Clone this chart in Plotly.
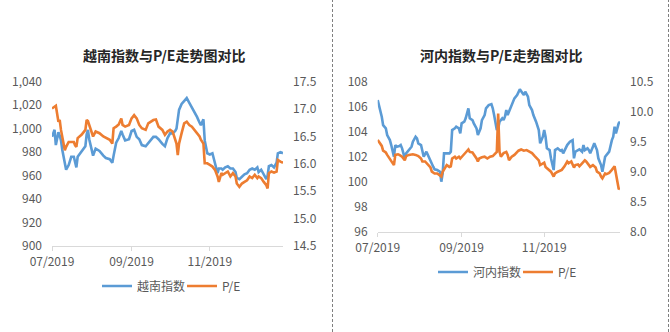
import plotly.graph_objects as go
import pandas as pd

START = pd.Timestamp("2019-07-01")
tick_vals = ["2019-07-01", "2019-09-01", "2019-11-01"]
tick_text = ["07/2019", "09/2019", "11/2019"]

# ---- Left chart: 越南指数 vs P/E (days since 2019-07-01) ----
vn_days = [0, 2, 3, 5, 6, 7, 8, 10, 11, 13,
           15, 17, 18, 19, 20, 23, 26, 27, 28, 29,
           32, 34, 37, 40, 42, 45, 47, 48, 50, 52,
           54, 55, 57, 60, 62, 64, 66, 68, 70, 73,
           75, 77, 79, 81, 83, 86, 88, 90, 92, 94,
           96, 97, 98, 99, 101, 103, 105, 107, 109, 111,
           113, 115, 116, 118, 119, 121, 123, 125, 127, 129,
           130, 132, 133, 135, 137, 139, 141, 143, 144, 146,
           148, 150, 152, 154, 156, 158, 160, 161, 163, 165,
           167, 168, 169, 171, 173, 175, 176, 178, 180]
vn_index = [993, 999, 986, 997, 994, 990, 982, 970, 965, 969,
            976, 976, 972, 967, 976, 981, 985, 995, 999, 991,
            977, 983, 981, 977, 975, 974, 971, 977, 988, 992,
            998, 995, 990, 991, 998, 999, 993, 991, 986, 985,
            988, 991, 993, 993, 991, 987, 985, 992, 996, 996,
            998, 1000, 1008, 1016, 1021, 1024, 1026, 1022, 1018, 1015,
            1010, 1005, 1003, 1008, 990, 979, 978, 979, 971, 962,
            966, 966, 965, 967, 968, 966, 966, 963, 958, 957,
            959, 961, 962, 965, 966, 965, 967, 963, 965, 961,
            957, 960, 968, 969, 967, 971, 979, 980, 979]
vn_pe = [17.01, 17.04, 17.06, 16.77, 16.80, 16.62, 16.50, 16.25, 16.31, 16.40,
         16.40, 16.40, 16.34, 16.31, 16.47, 16.53, 16.62, 16.80, 16.78, 16.71,
         16.50, 16.59, 16.56, 16.50, 16.47, 16.44, 16.37, 16.65, 16.68, 16.72,
         16.83, 16.71, 16.68, 16.71, 16.83, 16.89, 16.83, 16.71, 16.65, 16.62,
         16.74, 16.77, 16.80, 16.81, 16.68, 16.62, 16.53, 16.59, 16.62, 16.59,
         16.44, 16.37, 16.16, 16.37, 16.56, 16.74, 16.77, 16.71, 16.68, 16.62,
         16.56, 16.50, 16.44, 16.37, 16.01, 16.01, 15.98, 15.95, 15.89, 15.77,
         15.67, 15.83, 15.80, 15.83, 15.86, 15.77, 15.83, 15.77, 15.64, 15.58,
         15.64, 15.67, 15.70, 15.77, 15.74, 15.80, 15.74, 15.77, 15.74, 15.67,
         15.61, 15.55, 15.83, 15.86, 15.84, 15.86, 16.07, 16.04, 16.02]

# ---- Right chart: 河内指数 vs P/E ----
hn_idx_days = [0, 1, 2, 3, 4, 6, 7, 9, 10, 12, 13, 14, 16, 17, 18, 20, 21, 23, 25, 26,
               28, 29, 30, 32, 33, 34, 36, 37, 39, 41, 42, 44, 46, 47, 48, 49, 51, 53, 54, 55,
               57, 58, 60, 61, 62, 64, 65, 67, 68, 70, 71, 73, 74, 76, 77, 79, 80, 82, 84, 85,
               86, 87, 88, 89, 90, 92, 93, 94, 95, 96, 98, 99, 101, 103, 105, 107, 108, 109, 111, 112,
               114, 115, 116, 117, 119, 120, 121, 122, 123, 124, 125, 127, 128, 129, 130, 131, 133, 135, 136, 137,
               139, 140, 142, 144, 145, 146, 148, 149, 151, 152, 153, 155, 156, 157, 159, 160, 162, 163, 164, 165,
               166, 167, 168, 170, 171, 173, 174, 175, 176, 177, 178, 179]
hn_index = [106.53, 106.13, 105.6, 105.2, 104.53, 104.27, 103.73, 103.33, 102.93, 102.0,
            102.93, 102.8, 102.85, 102.93, 102.67, 101.87, 102.27, 102.53, 102.8, 103.2,
            103.6, 103.47, 103.07, 102.93, 102.53, 102.0, 102.4, 102.13, 101.6, 101.2,
            100.99, 100.93, 100.8, 100.0, 100.67, 102.27, 102.27, 102.27, 102.4, 104.13,
            104.27, 104.4, 104.27, 103.87, 104.67, 104.8, 105.07, 105.87, 105.07, 104.93,
            104.67, 104.27, 103.73, 104.27, 104.93, 105.33, 105.87, 106.13, 106.21, 105.87,
            105.33, 104.8, 104.13, 104.27, 104.8, 105.07, 104.93, 105.2, 105.73, 105.33,
            105.87, 106.13, 106.67, 106.93, 107.39, 107.07, 106.93, 107.2, 106.8, 106.13,
            105.73, 105.33, 105.07, 104.8, 104.13, 103.07, 103.33, 103.6, 104.13, 103.6,
            102.67, 102.53, 101.87, 101.33, 100.93, 102.53, 102.67, 102.48, 102.53, 102.27,
            102.67, 102.93, 103.2, 103.33, 101.87, 102.4, 102.53, 102.59, 102.4, 102.93,
            102.53, 102.67, 102.53, 102.27, 102.8, 103.07, 102.53, 101.87, 101.6, 101.33,
            100.8, 101.47, 102.0, 102.27, 102.4, 103.33, 103.6, 104.4, 103.87, 104.27,
            104.67, 104.8]
hn_pe_days = [0, 2, 3, 4, 6, 7, 9, 10, 12, 13, 15, 16, 18, 20, 21, 23, 25, 26, 28, 30,
              32, 33, 35, 37, 39, 40, 42, 44, 46, 47, 48, 50, 51, 53, 54, 55, 57, 58, 60, 61,
              63, 65, 67, 68, 70, 71, 73, 74, 75, 77, 79, 81, 83, 85, 86, 87, 88, 89, 90, 91,
              92, 93, 95, 96, 97, 99, 101, 103, 104, 106, 108, 110, 112, 114, 116, 117, 119, 120, 121, 123,
              124, 126, 128, 130, 131, 133, 135, 136, 138, 140, 141, 143, 145, 146, 148, 149, 151, 153, 154, 156,
              157, 159, 161, 162, 164, 165, 166, 168, 169, 171, 172, 173, 175, 176, 177, 178, 179]
hn_pe = [9.53, 9.47, 9.43, 9.35, 9.32, 9.28, 9.22, 9.18, 9.11, 9.28,
         9.29, 9.28, 9.25, 9.19, 9.26, 9.28, 9.29, 9.29, 9.28, 9.26,
         9.22, 9.17, 9.17, 9.11, 9.07, 9.0, 8.97, 8.97, 8.94, 8.92,
         9.0, 9.08, 9.11, 9.08, 9.09, 9.22, 9.25, 9.22, 9.25, 9.22,
         9.28, 9.32, 9.37, 9.33, 9.32, 9.29, 9.22, 9.17, 9.22, 9.24,
         9.25, 9.22, 9.25, 9.26, 9.28, 9.31, 9.33, 9.97, 9.33, 9.25,
         9.29, 9.31, 9.33, 9.28, 9.19, 9.25, 9.28, 9.32, 9.35, 9.37,
         9.35, 9.36, 9.33, 9.31, 9.26, 9.24, 9.19, 9.11, 9.12, 9.15,
         9.08, 9.04, 9.0, 8.92, 8.97, 9.0, 9.02, 9.03, 9.09, 9.17,
         9.14, 9.17, 9.07, 9.11, 9.12, 9.09, 9.14, 9.19, 9.17, 9.11,
         9.08, 9.11, 9.07, 9.0, 8.97, 8.92, 8.89, 8.97, 8.96, 8.98,
         9.0, 9.03, 9.09, 8.97, 8.83, 8.72, 8.71]


def to_dates(days):
    return [START + pd.Timedelta(days=d) for d in days]


BLUE = "#5B9BD5"
ORANGE = "#ED7D31"
FONT = "Noto Sans CJK SC"
TXT = "#595959"
W, H = 670, 332

fig = go.Figure()
fig.add_trace(go.Scatter(x=to_dates(vn_days), y=vn_index, name="越南指数", mode="lines",
                         line=dict(color=BLUE, width=2.6), xaxis="x", yaxis="y", legend="legend"))
fig.add_trace(go.Scatter(x=to_dates(vn_days), y=vn_pe, name="P/E", mode="lines",
                         line=dict(color=ORANGE, width=2.6), xaxis="x", yaxis="y2", legend="legend"))
fig.add_trace(go.Scatter(x=to_dates(hn_idx_days), y=hn_index, name="河内指数", mode="lines",
                         line=dict(color=BLUE, width=2.6), xaxis="x2", yaxis="y3", legend="legend2"))
fig.add_trace(go.Scatter(x=to_dates(hn_pe_days), y=hn_pe, name="P/E", mode="lines",
                         line=dict(color=ORANGE, width=2.6), xaxis="x2", yaxis="y4", legend="legend2"))

tickfont = dict(family=FONT, size=12, color=TXT)

def xaxis(domain, anchor, end):
    return dict(domain=domain, anchor=anchor, type="date", automargin=False,
                range=["2019-07-01", end], tickvals=tick_vals, ticktext=tick_text,
                showgrid=False, zeroline=False, showline=True, linecolor="#D9D9D9", linewidth=1,
                ticks="outside", ticklen=4, tickcolor="#D9D9D9", tickfont=tickfont,
                ticklabelstandoff=1)

def yaxis(domain, anchor, rng, dtick, fmt, side="left", overlaying=None):
    d = dict(domain=domain, anchor=anchor, range=rng, dtick=dtick, tick0=rng[0], automargin=False,
             tickformat=fmt, side=side, showgrid=False, zeroline=False, showline=False,
             ticks="", tickfont=tickfont, ticklabelstandoff=9)
    if overlaying:
        d["overlaying"] = overlaying
    return d

yl = [1 - 246 / H, 1 - 81.7 / H]
yr = [1 - 231.7 / H, 1 - 81.7 / H]

legfont = dict(family=FONT, size=12, color=TXT)

fig.update_layout(
    template="none",
    width=W, height=H, autosize=False,
    margin=dict(l=0, r=0, t=0, b=0, autoexpand=False),
    paper_bgcolor="white", plot_bgcolor="rgba(0,0,0,0)",
    xaxis=xaxis([52 / W, 283 / W], "y", "2019-12-28"),
    yaxis=yaxis(yl, "x", [900, 1040], 20, ",d"),
    yaxis2=yaxis(yl, "x", [14.5, 17.5], 0.5, ".1f", side="right", overlaying="y"),
    xaxis2=xaxis([377.7 / W, 620 / W], "y3", "2019-12-27"),
    yaxis3=yaxis(yr, "x2", [96, 108], 2, "d"),
    yaxis4=yaxis(yr, "x2", [8.0, 10.5], 0.5, ".1f", side="right", overlaying="y3"),
    legend=dict(orientation="h", x=97 / W, y=1 - 286 / H, xanchor="left", yanchor="middle",
                font=legfont, itemwidth=30, entrywidth=40, entrywidthmode="pixels",
                bgcolor="rgba(0,0,0,0)", tracegroupgap=0),
    legend2=dict(orientation="h", x=433 / W, y=1 - 272 / H, xanchor="left", yanchor="middle",
                 font=legfont, itemwidth=30, entrywidth=40, entrywidthmode="pixels",
                 bgcolor="rgba(0,0,0,0)", tracegroupgap=0),
    showlegend=True,
    annotations=[
        dict(text="<b>越南指数与P/E走势图对比</b>", x=164 / W, y=1 - 55 / H, xref="paper", yref="paper",
             xanchor="center", yanchor="middle", showarrow=False,
             font=dict(family=FONT, size=14, color="#262626")),
        dict(text="<b>河内指数与P/E走势图对比</b>", x=501 / W, y=1 - 55 / H, xref="paper", yref="paper",
             xanchor="center", yanchor="middle", showarrow=False,
             font=dict(family=FONT, size=14, color="#262626")),
    ],
    shapes=[
        dict(type="line", xref="paper", yref="paper", x0=332.5 / W, x1=332.5 / W, y0=0, y1=1,
             line=dict(color="#7F7F7F", width=1, dash="3px,2px")),
        dict(type="line", xref="paper", yref="paper", x0=668.5 / W, x1=668.5 / W, y0=0, y1=1,
             line=dict(color="#7F7F7F", width=1, dash="3px,2px")),
    ],
)

fig.write_html("out.html")
